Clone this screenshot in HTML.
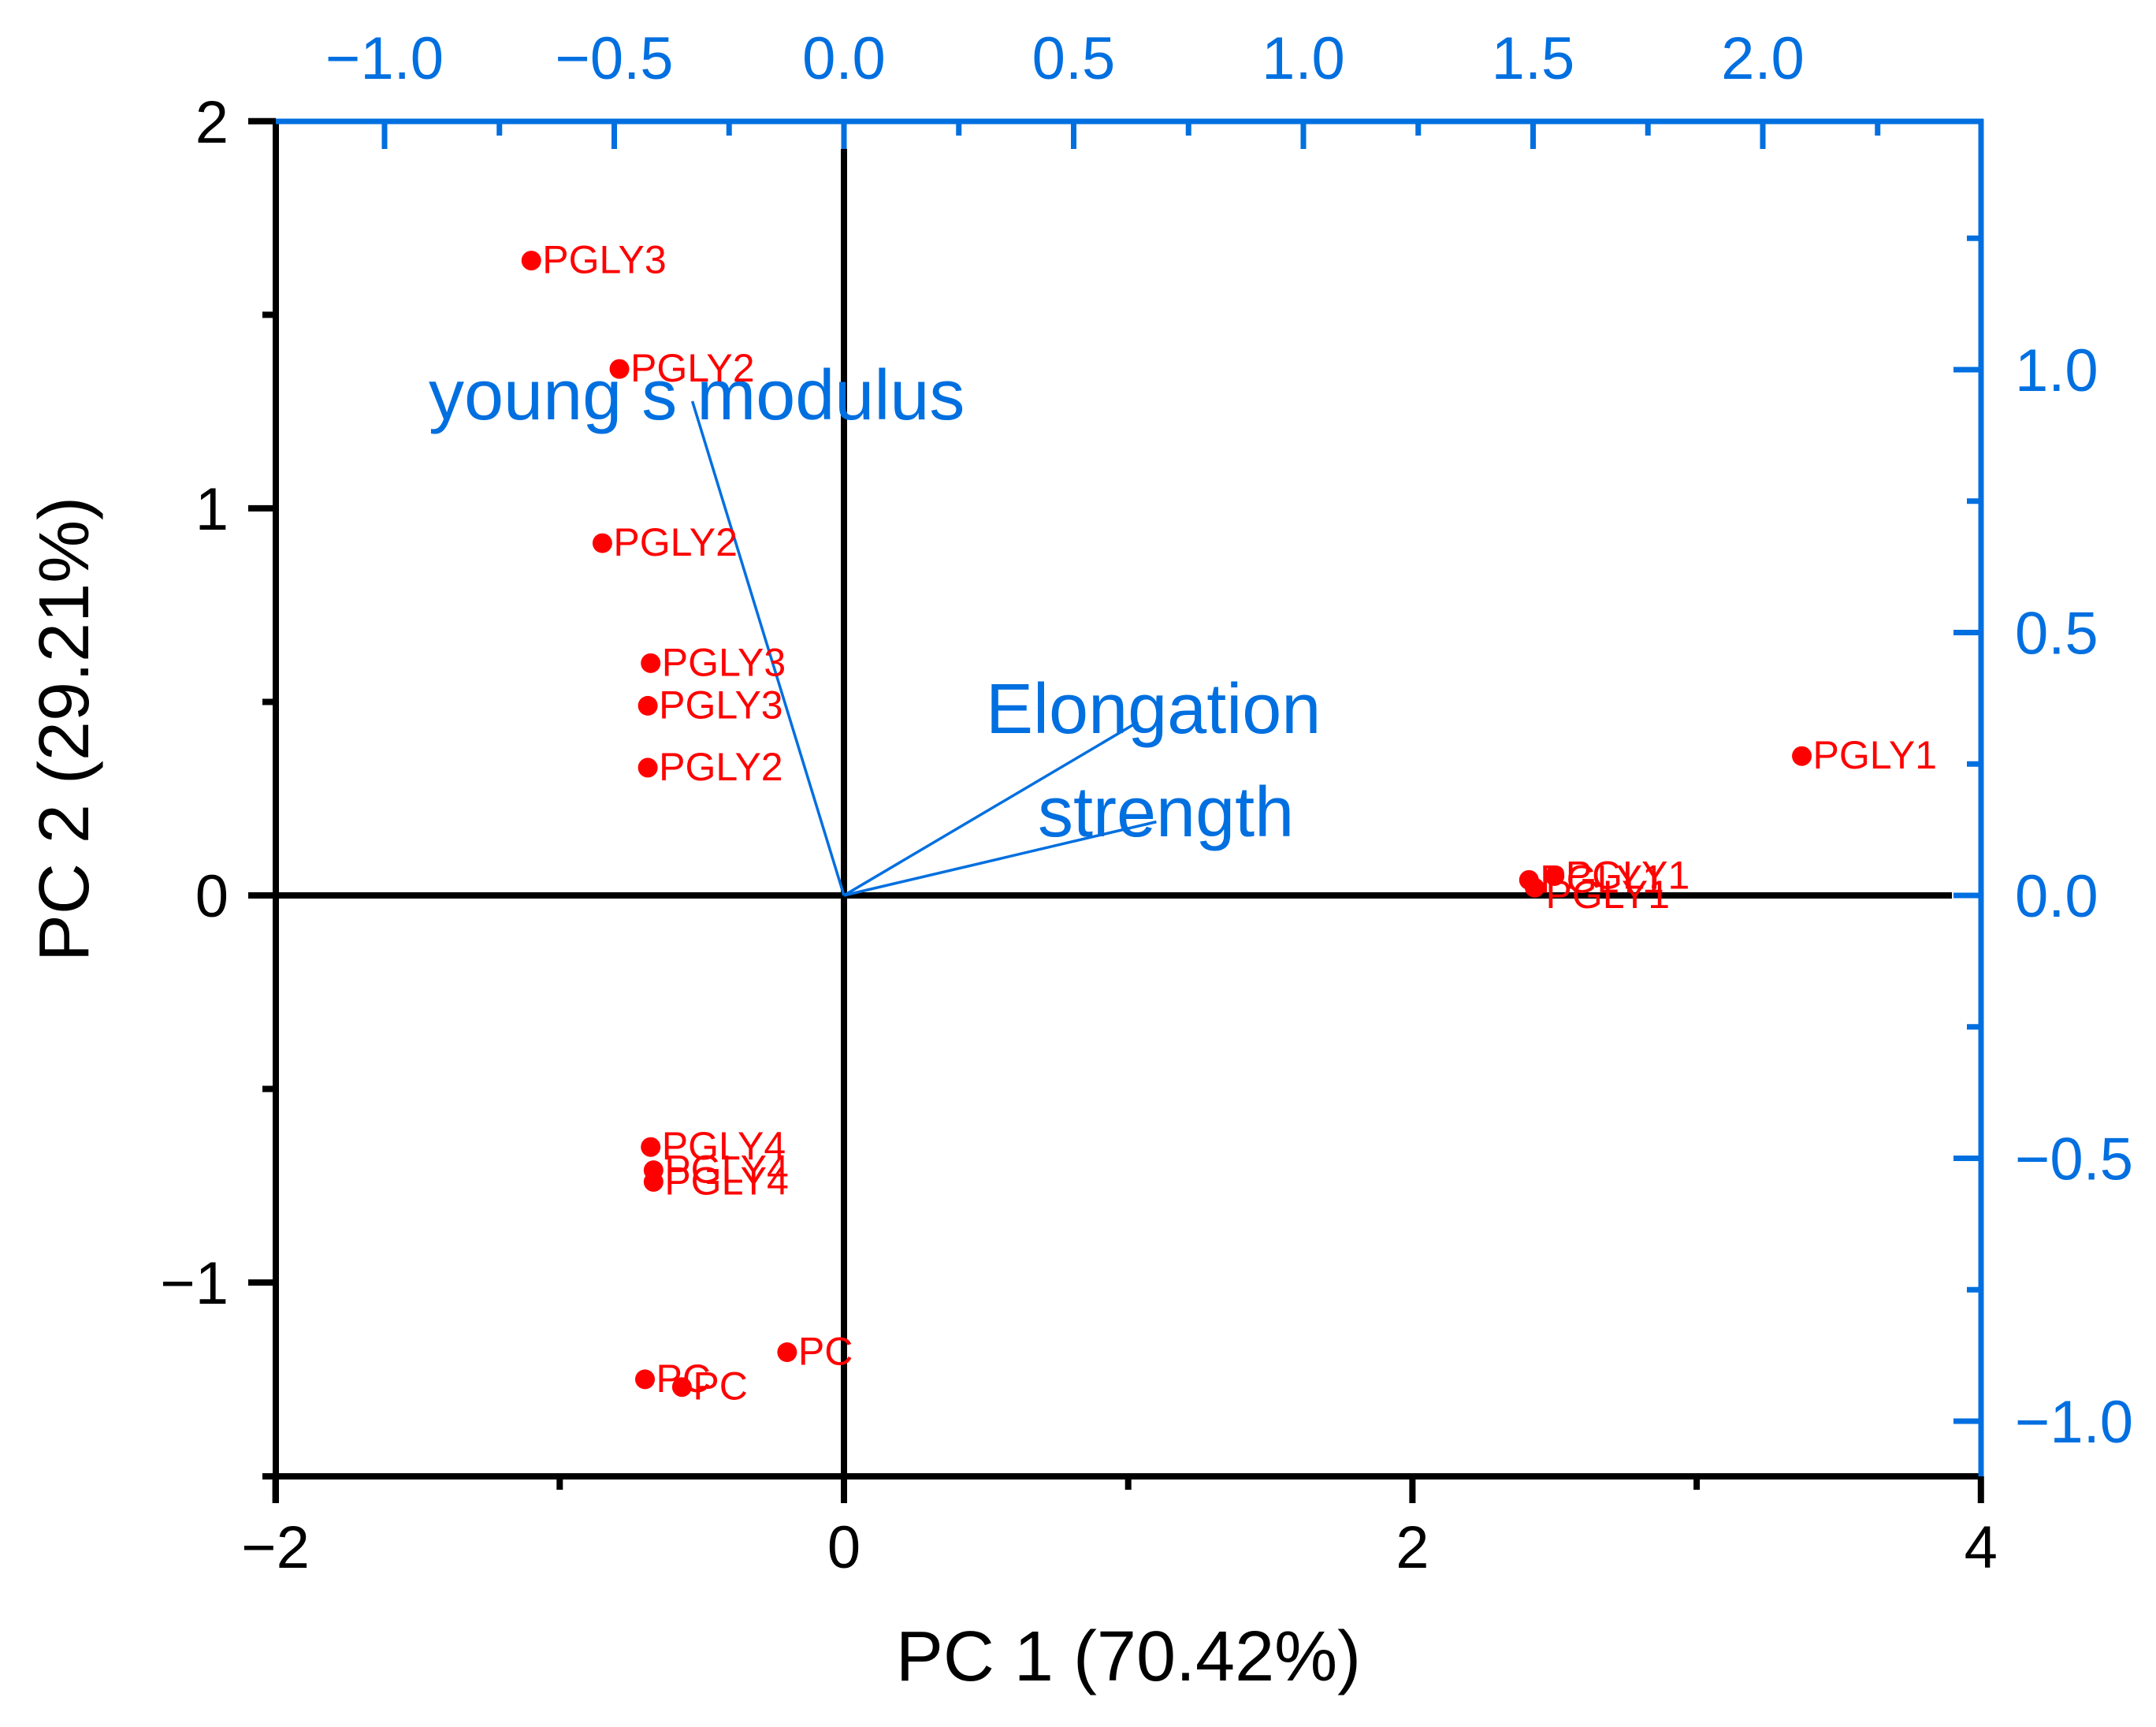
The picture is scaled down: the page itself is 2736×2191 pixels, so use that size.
<!DOCTYPE html>
<html><head><meta charset="utf-8"><style>
html,body{margin:0;padding:0;background:#fff;}
svg{display:block;}
text{font-family:"Liberation Sans",Arial,sans-serif;}
</style></head>
<body>
<svg id="chart" width="2736" height="2191" viewBox="0 0 2736 2191" xmlns="http://www.w3.org/2000/svg">
<rect width="2736" height="2191" fill="#fff"/>
<g id="g"></g>
</svg>
<script>
const scoreLabels=["PGLY3","PGLY2","PGLY2","PGLY3","PGLY3","PGLY2","PGLY1","PGLY1","PGLY1","PGLY1","PGLY4","PGLY4","PGLY4","PC","PC","PC"];
const scoreX=[-1.10,-0.79,-0.85,-0.68,-0.69,-0.69,3.37,2.41,2.50,2.43,-0.68,-0.67,-0.67,-0.70,-0.57,-0.20];
const scoreY=[1.64,1.36,0.91,0.60,0.49,0.33,0.36,0.04,0.05,0.02,-0.65,-0.71,-0.74,-1.25,-1.27,-1.18];
const labelDy=[0,0,0,0,0,0,0,0,0,10,0,0,0,0,0,0];
const loadingNames=["young s modulus","Elongation","strength"];
const loadingX=[-0.33,0.64,0.68];
const loadingY=[0.94,0.33,0.14];
const bottomTicks=[-2,0,2,4];
const leftTicks=[2,1,0,-1];
const topTicks=[-1.0,-0.5,0.0,0.5,1.0,1.5,2.0];
const rightTicks=[1.0,0.5,0.0,-0.5,-1.0];

const L=350,R=2514,T=154,B=1873;
const X=v=>1071+v*360.7, Y=v=>1136-v*491.1;
const X2=v=>1071+v*583, Y2=v=>1136-v*667;
const BLUE="#006fe0";
const NS="http://www.w3.org/2000/svg";
const g=document.getElementById('g');
function el(tag,attrs,txt){const e=document.createElementNS(NS,tag);for(const k in attrs)e.setAttribute(k,attrs[k]);if(txt!==undefined)e.textContent=txt;g.appendChild(e);return e;}
const fmt=v=>(v<0?"\u2212":"")+Math.abs(v);
const fmt1=v=>(v<0?"\u2212":"")+Math.abs(v).toFixed(1);
const SW=8;
let e;
e=el('line',{x1:X(0),y1:189,x2:X(0),y2:B,stroke:'#000','stroke-width':SW});


e=el('line',{x1:L,y1:Y(0),x2:2477,y2:Y(0),stroke:'#000','stroke-width':SW});



e=el('line',{x1:L-17,y1:B,x2:R,y2:B,stroke:'#000','stroke-width':SW});


for(let v=-1;v<=3;v+=2){e=el('line',{x1:X(v),y1:B,x2:X(v),y2:B+17,stroke:'#000','stroke-width':SW});

}
bottomTicks.forEach(v=>{e=el('line',{x1:X(v),y1:B,x2:X(v),y2:B+34,stroke:'#000','stroke-width':SW});


e=el('text',{x:X(v),y:1989,'font-size':76,'text-anchor':'middle',fill:'#000'},fmt(v));

});

e=el('line',{x1:L,y1:T,x2:L,y2:B+34,stroke:'#000','stroke-width':SW});


[1.5,0.5,-0.5].forEach(v=>{e=el('line',{x1:L-17,y1:Y(v),x2:L,y2:Y(v),stroke:'#000','stroke-width':SW});

});
leftTicks.forEach(v=>{e=el('line',{x1:L-35,y1:Y(v),x2:L,y2:Y(v),stroke:'#000','stroke-width':SW});


e=el('text',{x:290,y:Y(v)+27,'font-size':76,'text-anchor':'end',fill:'#000'},fmt(v));

});

e=el('line',{x1:L,y1:T,x2:R+3,y2:T,stroke:BLUE,'stroke-width':7});


for(let v=-0.75;v<=2.3;v+=0.5){e=el('line',{x1:X2(v),y1:T,x2:X2(v),y2:T+18,stroke:BLUE,'stroke-width':7});

}
topTicks.forEach(v=>{e=el('line',{x1:X2(v),y1:T,x2:X2(v),y2:T+35,stroke:BLUE,'stroke-width':7});


e=el('text',{x:X2(v),y:100,'font-size':76,'text-anchor':'middle',fill:BLUE},fmt1(v));

});

e=el('line',{x1:R,y1:T-3,x2:R,y2:B,stroke:BLUE,'stroke-width':7});


for(let v=-0.75;v<=1.3;v+=0.5){e=el('line',{x1:R-18,y1:Y2(v),x2:R,y2:Y2(v),stroke:BLUE,'stroke-width':7});

}
rightTicks.forEach(v=>{e=el('line',{x1:R-35,y1:Y2(v),x2:R,y2:Y2(v),stroke:BLUE,'stroke-width':7});


e=el('text',{x:2557,y:Y2(v)+27,'font-size':76,'text-anchor':'start',fill:BLUE},fmt1(v));

});

const lblPos=[[544,532],[1251,930],[1317,1061]];
loadingNames.forEach((n,i)=>{
e=el('line',{x1:X2(0),y1:Y2(0),x2:X2(loadingX[i]),y2:Y2(loadingY[i]),stroke:BLUE,'stroke-width':3.5});


e=el('text',{x:lblPos[i][0],y:lblPos[i][1],'font-size':90,fill:BLUE},n);


});

scoreLabels.forEach((n,i)=>{
const cx=X(scoreX[i]),cy=Y(scoreY[i]);
e=el('circle',{cx:cx,cy:cy,r:12.5,fill:'#ff0000'});


e=el('text',{x:cx+14,y:cy+16+labelDy[i],'font-size':50,fill:'#ff0000'},n);


});

e=el('text',{x:1432,y:2132,'font-size':90,'text-anchor':'middle',fill:'#000'},"PC 1 (70.42%)");


e=el('text',{x:0,y:0,'font-size':90,'text-anchor':'middle',fill:'#000',transform:'translate(112,925) rotate(-90)'},"PC 2 (29.21%)");


</script>
</body></html>
